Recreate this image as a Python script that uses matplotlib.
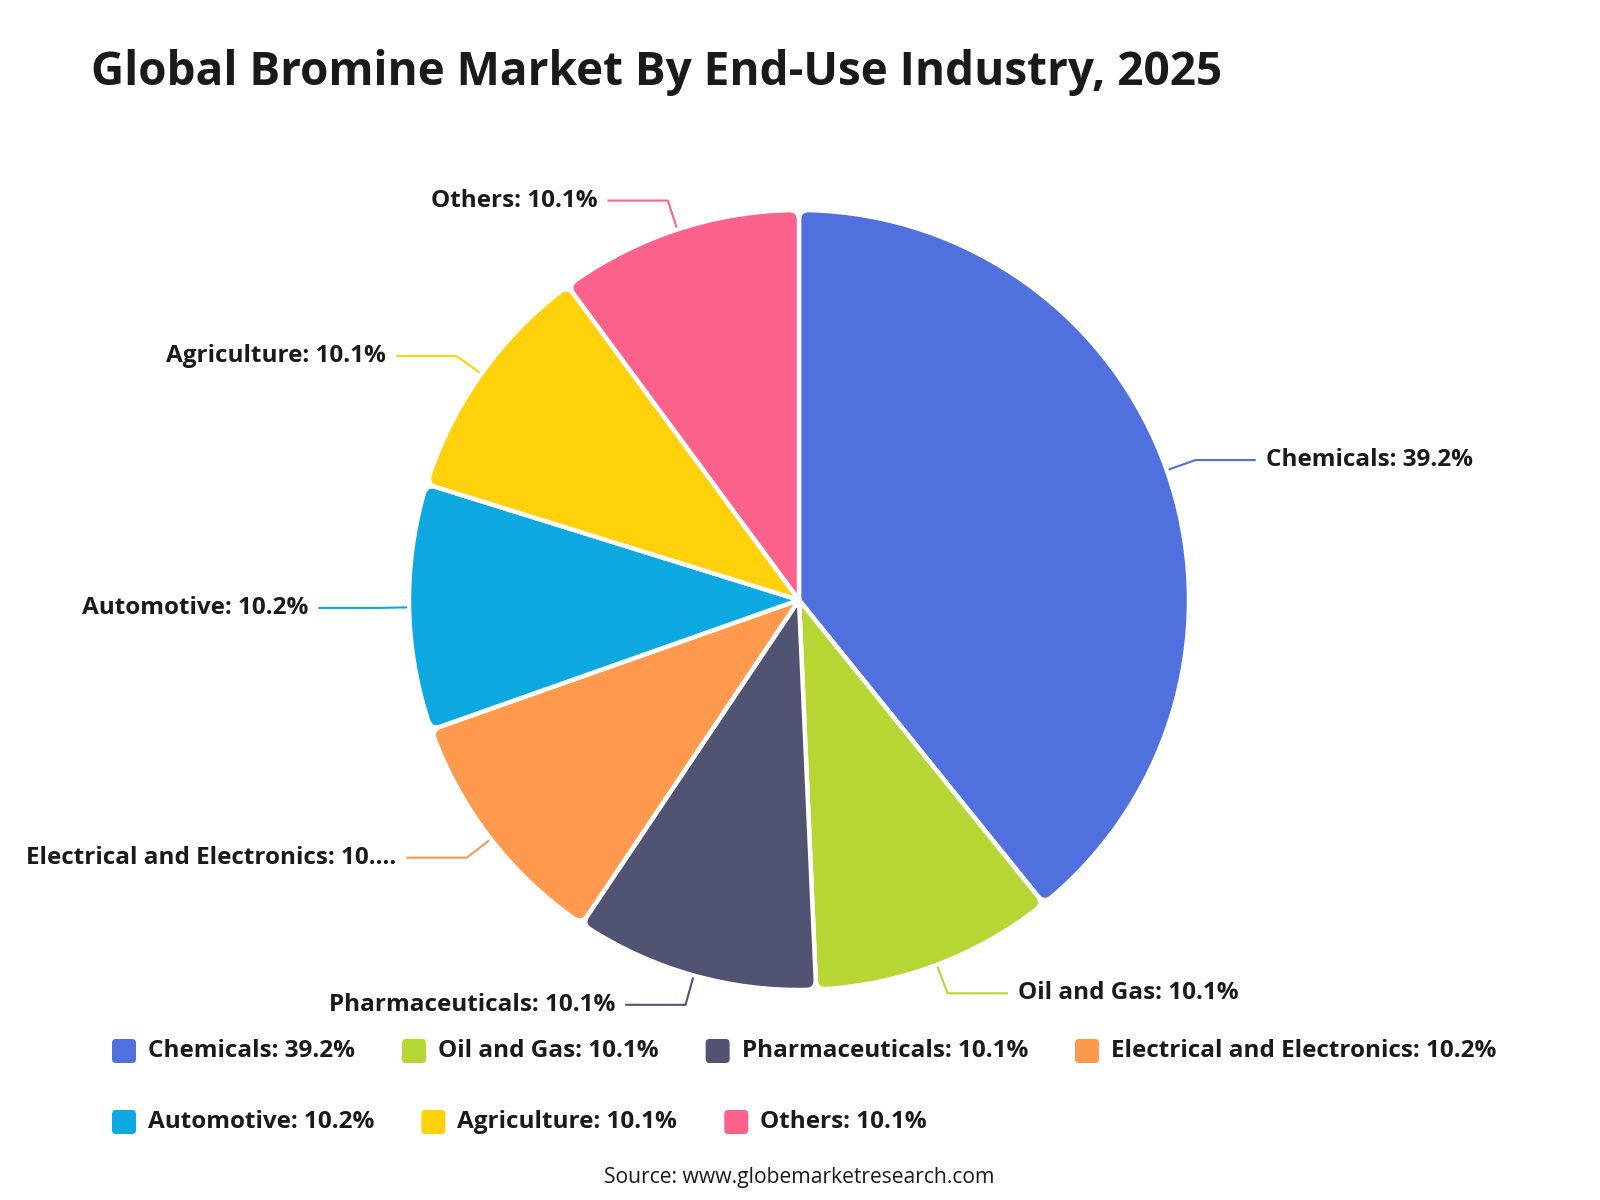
import numpy as np
import matplotlib
matplotlib.use("Agg")
import matplotlib.pyplot as plt
from matplotlib.path import Path
from matplotlib.patches import PathPatch, FancyBboxPatch
from matplotlib.transforms import Affine2D

# ---------------- data ----------------
categories = ["Chemicals", "Oil and Gas", "Pharmaceuticals", "Electrical and Electronics",
              "Automotive", "Agriculture", "Others"]
values = [39.2, 10.1, 10.1, 10.2, 10.2, 10.1, 10.1]
colors = ["#5070dd", "#b6d634", "#505372", "#ff994d", "#0ca8df", "#ffd10a", "#fb628b"]
slice_labels = ["Chemicals: 39.2%", "Oil and Gas: 10.1%", "Pharmaceuticals: 10.1%",
                "Electrical and Electronics: 10....", "Automotive: 10.2%",
                "Agriculture: 10.1%", "Others: 10.1%"]
legend_labels = ["Chemicals: 39.2%", "Oil and Gas: 10.1%", "Pharmaceuticals: 10.1%",
                 "Electrical and Electronics: 10.2%", "Automotive: 10.2%",
                 "Agriculture: 10.1%", "Others: 10.1%"]
title = "Global Bromine Market By End-Use Industry, 2025"
source = "Source: www.globemarketresearch.com"

FONT = ["Open Sans", "DejaVu Sans"]
plt.rcParams["font.family"] = FONT
TXT = "#1a1a1a"
LABEL_FS = 17.5

W, H = 1600, 1200
fig = plt.figure(figsize=(W / 100, H / 100), dpi=100)
fig.patch.set_facecolor("white")

# pie geometry in pixels
CX, CY, R = 799, 600, 390
ax = fig.add_axes([0, 0, 1, 1])
ax.axis("off")

wedges, _ = ax.pie(values, colors=colors, startangle=90, counterclock=False,
                   radius=1.0, center=(0, 0), frame=False)
ax.set_xlim(-CX / R, (W - CX) / R)
ax.set_ylim(-(H - CY) / R, CY / R)
ax.set_aspect("equal")


def rounded_wedge_path(center, r, t1, t2, rc):
    cx, cy = center
    d = np.degrees(rc / r)
    a1, a2 = np.radians(t1), np.radians(t2)
    P = lambda rr, a: (cx + rr * np.cos(a), cy + rr * np.sin(a))
    verts = [(cx, cy), P(r - rc, a1), P(r, a1), P(r, a1 + np.radians(d))]
    codes = [Path.MOVETO, Path.LINETO, Path.CURVE3, Path.CURVE3]
    arc = Path.arc(t1 + d, t2 - d)
    av = arc.vertices[1:] * r + np.array([cx, cy])
    verts += [tuple(v) for v in av]
    codes += list(arc.codes[1:])
    verts += [P(r, a2), P(r - rc, a2), (cx, cy), (cx, cy)]
    codes += [Path.CURVE3, Path.CURVE3, Path.LINETO, Path.CLOSEPOLY]
    return Path(verts, codes)


for w, col in zip(wedges, colors):
    w.set_visible(False)
    p = rounded_wedge_path(w.center, w.r, w.theta1, w.theta2, 0.025)
    ax.add_patch(PathPatch(p, facecolor=col, edgecolor="white", lw=3.2,
                           joinstyle="round", zorder=2))

# leader lines and labels
for w, col, lab in zip(wedges, colors, slice_labels):
    mid = np.radians((w.theta1 + w.theta2) / 2)
    c, s = np.cos(mid), np.sin(mid)
    x0, y0 = 1.008 * c, 1.008 * s
    x1, y1 = 1.078 * c, 1.078 * s
    side = 1 if c >= 0 else -1
    x2 = x1 + side * 0.152
    ax.plot([x0, x1, x2], [y0, y1, y1], color=col, lw=1.5, zorder=3,
            solid_joinstyle="miter")
    ax.text(x2 + side * 0.028, y1, lab, ha="left" if side > 0 else "right",
            va="center", fontsize=LABEL_FS, fontweight="bold", color=TXT, zorder=4)

# title and source
pxT = Affine2D().scale(1 / W, 1 / H) + fig.transFigure
fig.text(91, H - 72, title, transform=pxT, fontsize=33, fontweight="bold",
         color=TXT, ha="left", va="center")
fig.text(799, H - 1177, source, transform=pxT, fontsize=15.2, color=TXT,
         ha="center", va="center")

# legend (flow layout)
fig.canvas.draw()
renderer = fig.canvas.get_renderer()
rows = [(0, 4, 1051), (4, 7, 1122)]
for start, end, yc in rows:
    x = 112
    yb = H - yc
    for i in range(start, end):
        box = FancyBboxPatch((x, yb - 12), 24, 24,
                             boxstyle="round,pad=0,rounding_size=4",
                             transform=pxT, facecolor=colors[i], edgecolor="none")
        fig.add_artist(box)
        t = fig.text(x + 36, yb, legend_labels[i], transform=pxT, fontsize=LABEL_FS,
                     fontweight="bold", color=TXT, ha="left", va="center")
        wdt = t.get_window_extent(renderer).width
        x = x + 36 + wdt + 47

fig.savefig("out.png", dpi=100, facecolor="white")
